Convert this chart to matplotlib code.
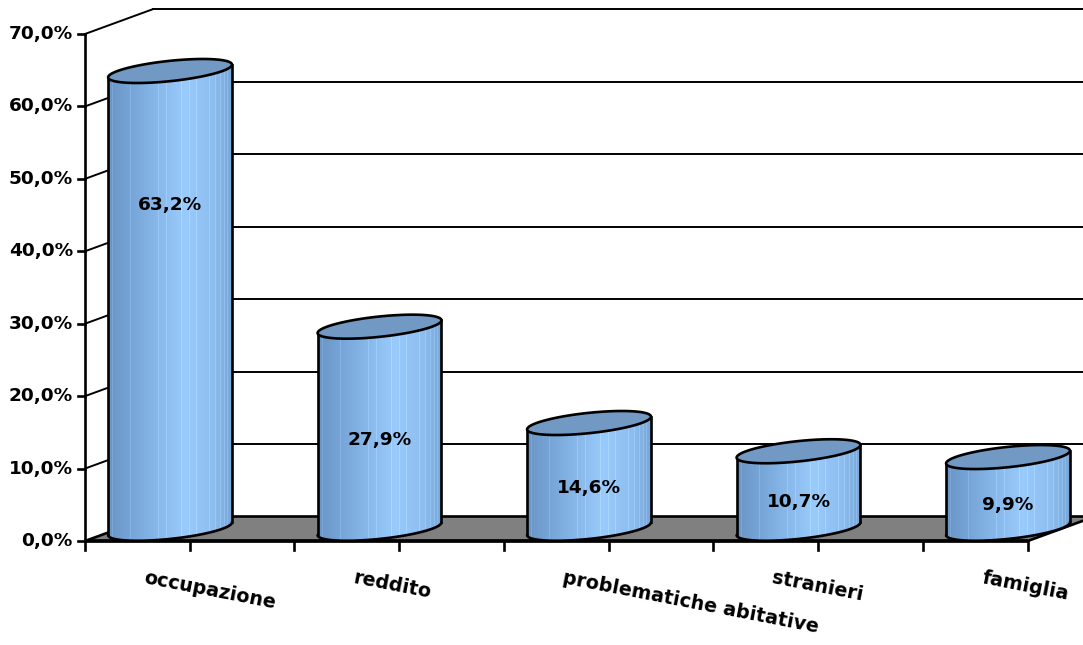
import numpy as np
import matplotlib
matplotlib.use("Agg")
import matplotlib.pyplot as plt
from matplotlib.patches import Polygon
from matplotlib.colors import LinearSegmentedColormap

# ---- data -------------------------------------------------------------
categories = ["occupazione", "reddito", "problematiche abitative", "stranieri", "famiglia"]
values = [63.2, 27.9, 14.6, 10.7, 9.9]
value_labels = ["63,2%", "27,9%", "14,6%", "10,7%", "9,9%"]
y_ticks = [0, 10, 20, 30, 40, 50, 60, 70]
y_tick_labels = ["0,0%", "10,0%", "20,0%", "30,0%", "40,0%", "50,0%", "60,0%", "70,0%"]

# ---- layout -----------------------------------------------------------
W, H = 1083, 645
X0_PX, SLOT_PX = 85, 209.5        # left axis position / width of one category
Y0_PX, UNIT_PX = 541, 7.243       # floor line / pixels per percentage point
DX = 67 / SLOT_PX                 # oblique depth offset (category units)
DY = 24.5 / UNIT_PX               # oblique depth offset (percent units)
FLOOR_END = 4.5
CYL_SHIFT = 0.246                 # front-plane offset of each column centre
CYL_A = 52.5 / SLOT_PX            # horizontal radius
CYL_R = 0.49                      # depth radius as a fraction of the depth

FONT = dict(family="DejaVu Sans", fontweight="bold")
LW_AXIS = 1.9
LW_GRID = 1.4

fig = plt.figure(figsize=(W / 100, H / 100), dpi=100)
ax = fig.add_axes([0, 0, 1, 1])
ax.axis("off")
xlim = ((0 - X0_PX) / SLOT_PX, (W - X0_PX) / SLOT_PX)
ylim = ((Y0_PX - H) / UNIT_PX, Y0_PX / UNIT_PX)

ymax = y_ticks[-1]

# back wall gridlines
for v in y_ticks[1:]:
    ax.plot([DX, FLOOR_END + DX], [v + DY, v + DY], color="black", lw=LW_GRID, zorder=1,
            solid_capstyle="butt")
# left wall gridlines (diagonals)
for v in y_ticks[1:]:
    ax.plot([0, DX], [v, v + DY], color="black", lw=LW_GRID, zorder=1)

# floor
floor = Polygon([(0, 0), (FLOOR_END, 0), (FLOOR_END + DX, DY), (DX, DY)], closed=True,
                facecolor="#808080", edgecolor="black", lw=LW_AXIS, zorder=2, joinstyle="miter")
ax.add_patch(floor)

# vertical value axis with outward ticks and labels
ax.plot([0, 0], [0, ymax], color="black", lw=LW_AXIS, zorder=2, solid_capstyle="projecting")
tick_len_x = 7 / SLOT_PX
for v, lab in zip(y_ticks, y_tick_labels):
    ax.plot([-tick_len_x, 0], [v, v], color="black", lw=LW_AXIS, zorder=2)
    ax.text(-12 / SLOT_PX, v, lab, ha="right", va="center", fontsize=13.3, **FONT)

# category axis ticks
tick_len_y = 9 / UNIT_PX
for u in np.arange(0, FLOOR_END + 0.01, 0.5):
    ax.plot([u, u], [0, -tick_len_y], color="black", lw=LW_AXIS, zorder=2)
ax.plot([0, FLOOR_END], [0, 0], color="black", lw=2.6, zorder=2.5, solid_capstyle="butt")

# column shading: dark left, bright towards the right, darker at the edge
body_cmap = LinearSegmentedColormap.from_list(
    "cyl", [(0.0, "#6a95c6"), (0.2, "#78a6d8"), (0.62, "#9acbfd"),
            (0.85, "#8ebdef"), (1.0, "#78a6d6")])

E = CYL_R * DX
F = CYL_R * DY
t0 = np.arctan2(E, CYL_A)
half_w = np.hypot(CYL_A, E)


def ellipse(cu, base, t):
    return cu + CYL_A * np.cos(t) + E * np.sin(t), base + DY / 2 + F * np.sin(t)


for i, (v, lab) in enumerate(zip(values, value_labels)):
    cu = i + CYL_SHIFT + DX / 2
    tf = np.linspace(t0 - np.pi, t0, 120)
    xt, yt = ellipse(cu, v, tf)
    xb, yb = ellipse(cu, 0, tf[::-1])
    body_pts = np.column_stack([np.concatenate([xt, xb]), np.concatenate([yt, yb])])
    body = Polygon(body_pts, closed=True, facecolor="none", edgecolor="none", zorder=3)
    ax.add_patch(body)

    # gradient fill with faint facet stripes
    n = 400
    s = np.linspace(0, 1, n)
    grad = body_cmap(s)[:, :3].copy()
    phis = np.linspace(-np.pi / 2, np.pi / 2, 26)[1:-1]
    for ph in phis:
        k = int(round((0.5 + 0.5 * np.sin(ph)) * (n - 1)))
        grad[k:k + 2] = np.clip(grad[k:k + 2] + 0.06, 0, 1)
    img = ax.imshow(grad[np.newaxis, :, :],
                    extent=[cu - half_w, cu + half_w, yb.min() - 1, yt.max() + 1],
                    aspect="auto", interpolation="nearest", zorder=3)
    img.set_clip_path(body)

    # outline of the body: silhouettes and the front bottom arc
    ax.plot([xt[0], xt[0]], [yt[0], yb[-1]], color="black", lw=LW_AXIS, zorder=4)
    ax.plot([xt[-1], xt[-1]], [yt[-1], yb[0]], color="black", lw=LW_AXIS, zorder=4)
    ax.plot(xb, yb, color="black", lw=LW_AXIS, zorder=4, solid_capstyle="round")

    # top cap
    ta = np.linspace(0, 2 * np.pi, 240)
    xc, yc = ellipse(cu, v, ta)
    cap = Polygon(np.column_stack([xc, yc]), closed=True, facecolor="#7199c4",
                  edgecolor="black", lw=LW_AXIS, zorder=5)
    ax.add_patch(cap)

    # value label
    label_v = v / 2 if v < 40 else v * 0.734
    ax.text(cu, label_v, lab, ha="center", va="center", fontsize=13.3, zorder=6, **FONT)

    # category label, slanted downwards
    ax.text(i + 58 / SLOT_PX, -42 / UNIT_PX, categories[i], ha="left", va="baseline",
            rotation=-11, rotation_mode="anchor", fontsize=13.8, **FONT)

ax.set_xlim(*xlim)
ax.set_ylim(*ylim)
fig.savefig("out.png", dpi=100)
